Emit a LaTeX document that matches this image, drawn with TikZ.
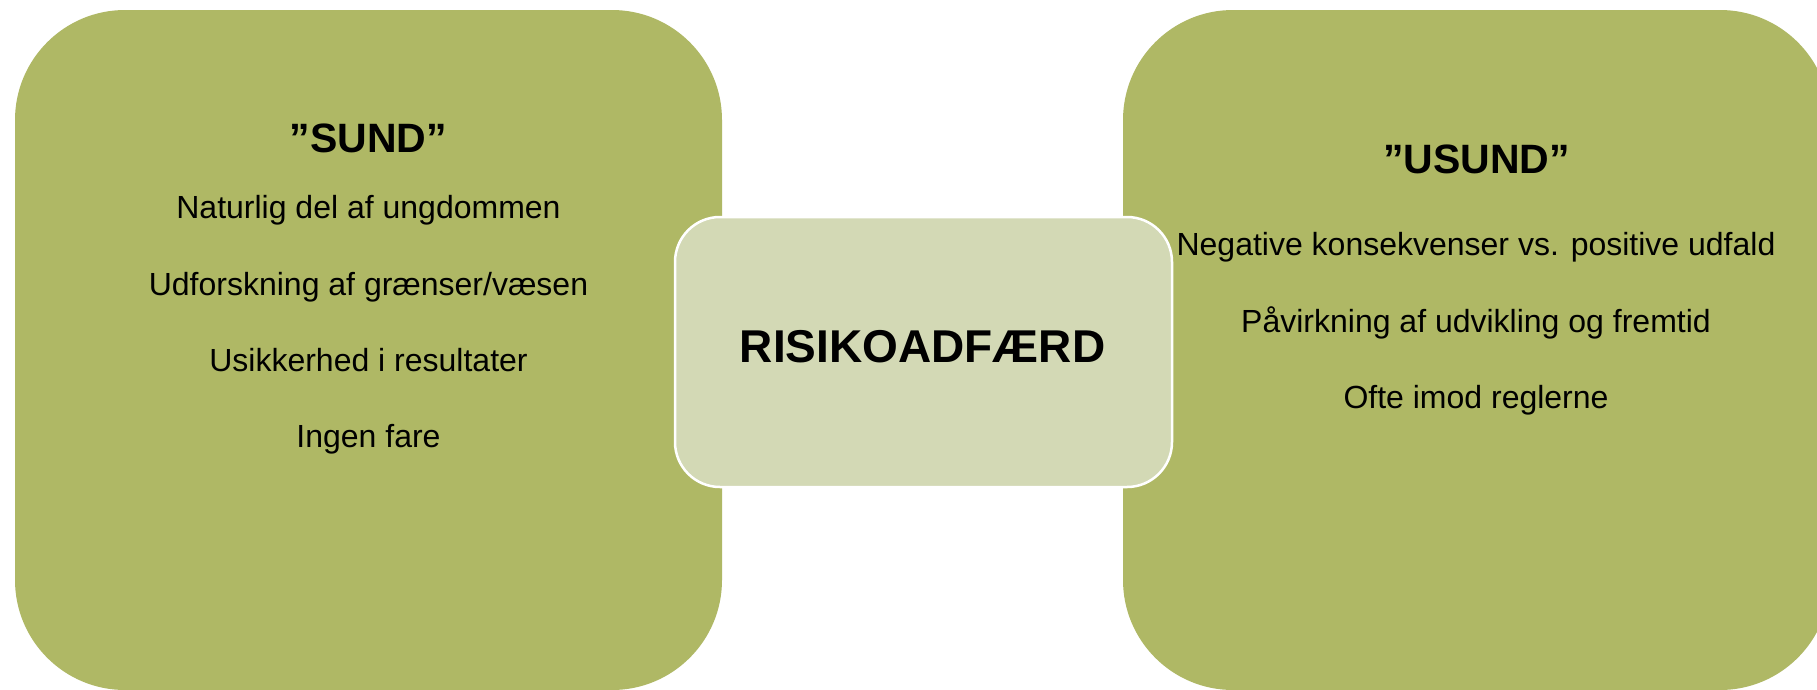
\documentclass[tikz,border=0pt]{standalone}
\usepackage{fontspec}
\setmainfont{Liberation Sans}
\definecolor{boxgreen}{RGB}{175,184,101}
\definecolor{boxlight}{RGB}{211,217,181}
\begin{document}
\begin{tikzpicture}[x=1pt,y=-1pt,
  bigbox/.style={rectangle, rounded corners=110pt, fill=boxgreen, draw=none,
    minimum width=707pt, minimum height=680pt, inner sep=0pt},
  midbox/.style={rectangle, rounded corners=45pt, fill=boxlight, draw=white, line width=2.5pt,
    minimum width=497pt, minimum height=270pt, inner sep=0pt},
  titletext/.style={anchor=base, inner sep=0pt, font=\fontsize{41}{48}\bfseries\selectfont},
  itemtext/.style={anchor=base, inner sep=0pt, font=\fontsize{32}{38}\selectfont},
  midtext/.style={anchor=base, inner sep=0pt, font=\fontsize{46}{54}\bfseries\selectfont}]
\useasboundingbox (0,0) rectangle (1817,689);
\fill[white] (0,0) rectangle (1817,689);
\node[bigbox] (left) at (368.5,350) {};
\node[bigbox] (right) at (1476.5,350) {};
\node[midbox] (mid) at (923.5,352) {};
% left texts
\node[titletext] (sund) at (368.5,152) {”SUND”};
\node[itemtext] (l1) at (368.5,218) {Naturlig del af ungdommen};
\node[itemtext] (l2) at (368.5,295) {Udforskning af grænser/væsen};
\node[itemtext] (l3) at (368.5,371) {Usikkerhed i resultater};
\node[itemtext] (l4) at (368.5,447) {Ingen fare};
% right texts
\node[titletext] (usund) at (1476.5,173) {”USUND”};
\node[itemtext] (r1) at (1476,255) {Negative konsekvenser vs. positive udfald};
\node[itemtext] (r2) at (1476,332) {Påvirkning af udvikling og fremtid};
\node[itemtext] (r3) at (1476,408) {Ofte imod reglerne};
% middle
\node[midtext] (risk) at (922.5,362.5) {RISIKOADFÆRD};
\end{tikzpicture}
\end{document}
